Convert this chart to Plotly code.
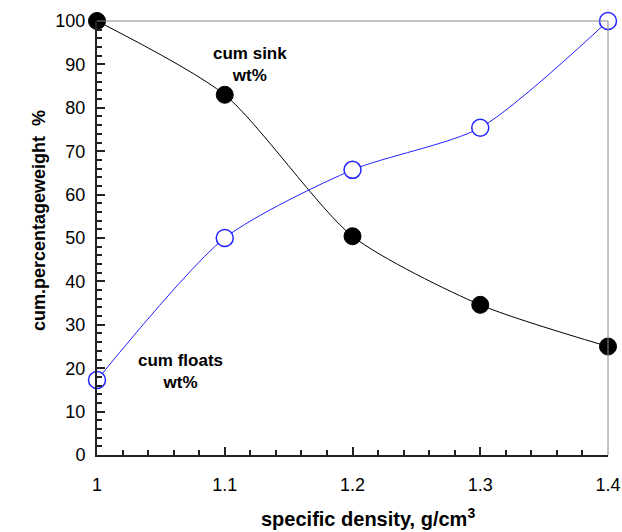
import plotly.graph_objects as go

density = [1.0, 1.1, 1.2, 1.3, 1.4]
cum_sink = [100, 83, 50.4, 34.6, 25]
cum_floats = [17.3, 50, 65.7, 75.4, 100]

x_ticks = [1, 1.1, 1.2, 1.3, 1.4]
x_tick_text = ["1", "1.1", "1.2", "1.3", "1.4"]
y_ticks = list(range(0, 101, 10))

fig = go.Figure()
fig.add_trace(go.Scatter(
    x=density, y=cum_sink, mode="lines+markers",
    line=dict(color="black", width=1, shape="spline", smoothing=0.7),
    marker=dict(size=17, color="black", line=dict(color="black", width=1)),
    cliponaxis=False, showlegend=False))
fig.add_trace(go.Scatter(
    x=density, y=cum_floats, mode="lines+markers",
    line=dict(color="#2222ff", width=1, shape="spline", smoothing=0.7),
    marker=dict(size=17, color="white", line=dict(color="#2222ff", width=1.5)),
    cliponaxis=False, showlegend=False))

font = "Liberation Sans, Arial, sans-serif"
fig.update_layout(
    width=622, height=532,
    margin=dict(l=97, r=14, t=21, b=77),
    plot_bgcolor="white", paper_bgcolor="white",
    font=dict(family=font, size=18, color="black"),
    xaxis=dict(range=[1, 1.4], tickvals=x_ticks, ticktext=x_tick_text,
               ticks="inside", ticklen=8, tickwidth=1.5, tickcolor="#222",
               minor=dict(dtick=0.02, ticks="inside", ticklen=5, tickcolor="#222"),
               showline=True, linecolor="#222", linewidth=2, showgrid=False,
               zeroline=False, ticklabelstandoff=12, automargin=False),
    yaxis=dict(range=[0, 100], tickvals=y_ticks,
               ticks="inside", ticklen=8, tickwidth=1.5, tickcolor="#222",
               minor=dict(dtick=2, ticks="inside", ticklen=5, tickcolor="#222"),
               showline=True, linecolor="#222", linewidth=2, showgrid=False,
               zeroline=False, ticklabelstandoff=6, automargin=False),
    shapes=[
        dict(type="line", xref="x domain", yref="y domain", x0=0, x1=1, y0=1, y1=1,
             line=dict(color="#888", width=1)),
        dict(type="line", xref="x domain", yref="y domain", x0=1, x1=1, y0=0, y1=1,
             line=dict(color="#888", width=1)),
    ],
    annotations=[
        dict(x=1.12, y=90, xref="x", yref="y", text="<b>cum sink<br>wt%</b>",
             showarrow=False, font=dict(size=17)),
        dict(x=1.065, y=19.2, xref="x", yref="y", text="<b>cum floats<br>wt%</b>",
             showarrow=False, font=dict(size=17)),
        dict(x=-0.137, y=0.5415, xref="paper", yref="paper", textangle=-90,
             text="<b>cum.percentageweight  %</b>", showarrow=False,
             font=dict(size=18)),
        dict(x=0.53, y=-0.177, xref="paper", yref="paper", yanchor="bottom",
             text="<b>specific density, g/cm<sup>3</sup></b>", showarrow=False,
             font=dict(size=20)),
    ],
)
fig.write_html("out.html", config={"displayModeBar": False},
               post_script="document.body.style.margin='0';")
